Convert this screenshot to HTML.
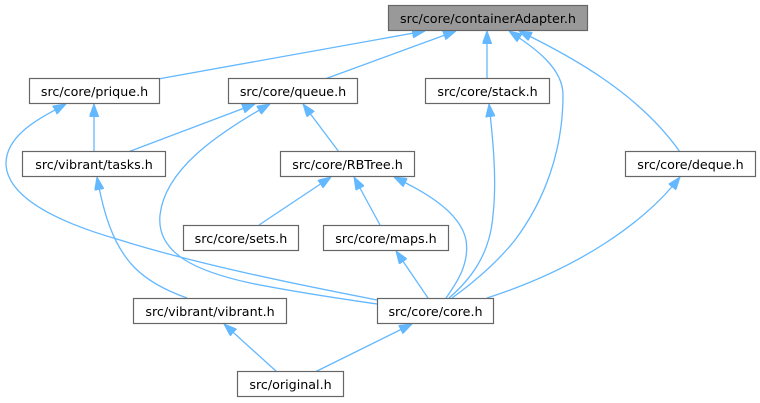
<!DOCTYPE html>
<html>
<head>
<meta charset="utf-8">
<style>
html,body{margin:0;padding:0;background:#fff;}
svg{display:block;}
text{font-family:"DejaVu Sans","Liberation Sans",sans-serif;font-size:12.7px;fill:#000;text-anchor:middle;}
.n{fill:#fff;stroke:#666;stroke-width:1.2;}
.r{fill:#999;stroke:#666;stroke-width:1.2;}
.e{fill:none;stroke:#63b8ff;stroke-width:1.3;marker-start:url(#ah);}
</style>
</head>
<body>
<svg width="760" height="403" viewBox="0 0 760 403" xmlns="http://www.w3.org/2000/svg">
<defs>
<marker id="ah" viewBox="0 0 13 9.5" refX="13" refY="4.75" markerWidth="13" markerHeight="9.5" markerUnits="userSpaceOnUse" orient="auto-start-reverse">
<path d="M0,0 L13,4.75 L0,9.5 z" fill="#63b8ff" stroke="#63b8ff" stroke-width="1"/>
</marker>
</defs>

<!-- edges -->
<path class="e" d="M425,31 L158,79"/>
<path class="e" d="M456,31 L325,79"/>
<path class="e" d="M487,31 L487,79"/>
<path class="e" d="M509,31 C535,48 563,68 563,95 C563,150 545,200 515,240 C495,265 470,285 452,298"/>
<path class="e" d="M519,31 C575,58 640,95 680,152"/>
<path class="e" d="M94,104 L94,152"/>
<path class="e" d="M255,104 L128,152"/>
<path class="e" d="M270,104 C215,135 165,170 160,215 C156,255 200,272 250,283 C300,293 350,300 377,304"/>
<path class="e" d="M66,104 C40,118 5,135 6,165 C8,195 50,220 120,240 C200,265 300,285 377,300"/>
<path class="e" d="M303,104 L339,152"/>
<path class="e" d="M331,177 L259,225"/>
<path class="e" d="M354,177 L380,225"/>
<path class="e" d="M394,177 C420,190 460,210 466,240 C470,265 455,285 446,298"/>
<path class="e" d="M489,104 C493,140 497,180 493,215 C490,255 470,280 449,298"/>
<path class="e" d="M680,177 C645,222 580,268 487,298"/>
<path class="e" d="M396,251 L428,298"/>
<path class="e" d="M97,177 C103,210 112,245 135,268 C150,283 170,292 187,298"/>
<path class="e" d="M224,324 L277,372"/>
<path class="e" d="M412,324 L315,372"/>

<!-- nodes -->
<rect class="r" x="388.5" y="5.5" width="199" height="25"/>
<text x="488" y="23">src/core/containerAdapter.h</text>

<rect class="n" x="29.5" y="78.5" width="130" height="25"/>
<text x="94.5" y="96">src/core/prique.h</text>

<rect class="n" x="228.5" y="78.5" width="129" height="25"/>
<text x="293" y="96">src/core/queue.h</text>

<rect class="n" x="425.5" y="78.5" width="124" height="25"/>
<text x="487.5" y="96">src/core/stack.h</text>

<rect class="n" x="22.5" y="151.5" width="143" height="25"/>
<text x="94" y="169">src/vibrant/tasks.h</text>

<rect class="n" x="280.5" y="151.5" width="134" height="25"/>
<text x="347.5" y="169">src/core/RBTree.h</text>

<rect class="n" x="625.5" y="151.5" width="130" height="25"/>
<text x="690.5" y="169">src/core/deque.h</text>

<rect class="n" x="183.5" y="225.5" width="115" height="25"/>
<text x="241" y="243">src/core/sets.h</text>

<rect class="n" x="323.5" y="225.5" width="125" height="25"/>
<text x="386" y="243">src/core/maps.h</text>

<rect class="n" x="133.5" y="298.5" width="153" height="25"/>
<text x="210" y="316">src/vibrant/vibrant.h</text>

<rect class="n" x="377.5" y="298.5" width="116" height="25"/>
<text x="435.5" y="316">src/core/core.h</text>

<rect class="n" x="237.5" y="371.5" width="106" height="25"/>
<text x="290.5" y="389">src/original.h</text>
</svg>
</body>
</html>
